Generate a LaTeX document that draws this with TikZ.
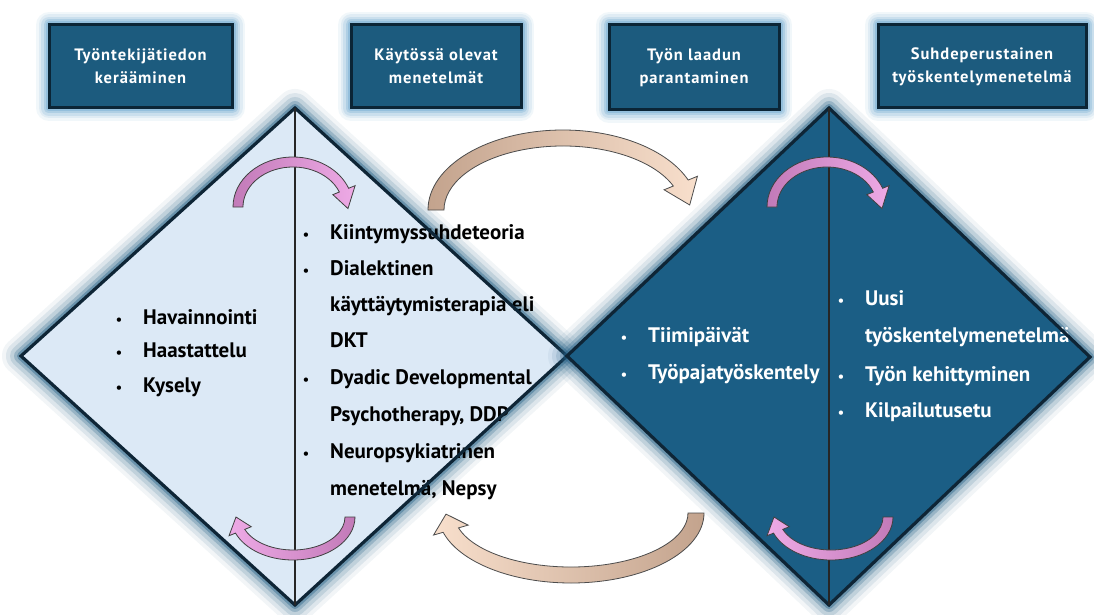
\documentclass[tikz,border=0pt]{standalone}
\usepackage{fontspec}
\setmainfont{PT Sans}
\newfontfamily\headfont[LetterSpace=6]{PT Sans}
\usepackage{tikz}
\tikzset{>=latex}
\definecolor{boxblue}{HTML}{1C5B7E}
\definecolor{boxedge}{HTML}{0B2536}
\definecolor{boxglow}{HTML}{7FB2D6}
\definecolor{paleblue}{HTML}{DCE9F6}
\definecolor{deepblue}{HTML}{1B5E85}
\definecolor{navy}{HTML}{0E2536}
\definecolor{glowblue}{HTML}{245F86}
\definecolor{pinkdark}{HTML}{C27AB8}
\definecolor{pinklight}{HTML}{EEAAE6}
\definecolor{tan}{HTML}{C3A38D}
\definecolor{peach}{HTML}{F8DFCC}
\tikzset{
    hbox/.style={draw=boxedge, fill=boxblue, line width=3pt, text=white, align=center,
        font=\headfont\bfseries\fontsize{16.5}{23}\selectfont,
        preaction={draw=boxglow, line width=26pt, opacity=.1, line join=round},
        preaction={draw=boxglow, line width=21pt, opacity=.15, line join=round},
        preaction={draw=boxglow, line width=16pt, opacity=.22, line join=round},
        preaction={draw=boxglow, line width=11pt, opacity=.35, line join=round},
        preaction={draw=boxglow, line width=7pt, opacity=.55, line join=round}},
    dglow/.style={
        preaction={draw=glowblue, line width=38pt, opacity=.06, line join=round},
        preaction={draw=glowblue, line width=30pt, opacity=.1, line join=round},
        preaction={draw=glowblue, line width=22pt, opacity=.15, line join=round},
        preaction={draw=glowblue, line width=14pt, opacity=.25, line join=round},
        preaction={draw=glowblue, line width=8pt, opacity=.4, line join=round}},
    edge/.style={draw=navy, line width=3.2pt, line join=miter},
    midline/.style={draw=black!85, line width=1.2pt},
    dark/.style={inner sep=0pt, text=black, font=\bfseries\fontsize{21}{24}\selectfont},
    light/.style={inner sep=0pt, text=white, font=\bfseries\fontsize{21}{24}\selectfont},
    pinkarrow/.style={draw=black!75, line width=.8pt},
    bigarrow/.style={draw=black!70, line width=.8pt}
}
\newcommand{\corner}[3]{
    \coordinate (#1) at (#2,#3);
}
\newcommand{\dotitem}[5][]{
    \node[#1, anchor=mid] (#2-dot) at (#3-24,#4) {\fontsize{14}{14}\selectfont\textbullet};
    \node[#1, anchor=mid west] (#2) at (#3,#4) {#5};
}
\newcommand{\lineitem}[5][]{
    \node[#1, anchor=mid west] (#2) at (#3,#4) {#5};
}
\newcommand{\blockarc}[9]{
    \pgfmathsetmacro\bax{#2+#7}\pgfmathsetmacro\bay{#3+#7}
    \pgfmathsetmacro\bix{#2-#7}\pgfmathsetmacro\biy{#3-#7}
    \pgfmathsetmacro\hax{#2+#8}\pgfmathsetmacro\hay{#3+#8}
    \pgfmathsetmacro\hix{#2-#8}\pgfmathsetmacro\hiy{#3-#8}
    \begin{scope}[shift={(#1)}]
        \path[#9] (#4:{\bax} and {\bay}) arc[start angle=#4, end angle=#5, x radius=\bax, y radius=\bay]
            -- (#5:{\hax} and {\hay}) -- (#6:{#2} and {#3}) -- (#5:{\hix} and {\hiy})
            -- (#5:{\bix} and {\biy}) arc[start angle=#5, end angle=#4, x radius=\bix, y radius=\biy] -- cycle;
    \end{scope}
}

\begin{document}
\begin{tikzpicture}[x=1pt, y=1pt]
            \fill[white] (0,0) rectangle (1094,-615);
            \useasboundingbox (0,0) rectangle (1094,-615);

            \node[hbox, minimum width=183pt, minimum height=83pt] (kerays) at (140.5,-66.5) {Työntekijätiedon\\kerääminen};
            \node[hbox, minimum width=170pt, minimum height=83pt] (menetelmat) at (436,-66.5) {Käytössä olevat\\menetelmät};
            \node[hbox, minimum width=170pt, minimum height=85pt] (laatu) at (694,-67.5) {Työn laadun\\parantaminen};
            \node[hbox, minimum width=208pt, minimum height=83pt] (suhde) at (982,-66.5) {Suhdeperustainen\\työskentelymenetelmä};

            \corner {lt} {295} {-108}
            \corner {lr} {567} {-356}
            \corner {lb} {295} {-605}
            \corner {ll} {21} {-356}
            \corner {rt} {829} {-108}
            \corner {rr} {1090} {-357}
            \corner {rb} {829} {-605}
            \corner {rl} {567} {-356}

            \path[dglow, fill=paleblue] (lt) -- (lr) -- (lb) -- (ll) -- cycle;
            \dotitem[dark] {havainnointi} {143} {-322} {Havainnointi}
            \dotitem[dark] {haastattelu} {143} {-355} {Haastattelu}
            \dotitem[dark] {kysely} {143} {-390} {Kysely}
            \dotitem[dark] {kiintymys} {330} {-237} {Kiintymyssuhdeteoria}
            \dotitem[dark] {dkt1} {330} {-273} {Dialektinen}
            \lineitem[dark] {dkt2} {330} {-309} {käyttäytymisterapia eli}
            \lineitem[dark] {dkt3} {330} {-345} {DKT}
            \dotitem[dark] {ddp1} {330} {-382} {Dyadic Developmental}
            \lineitem[dark] {ddp2} {330} {-419} {Psychotherapy, DDP}
            \dotitem[dark] {nepsy1} {330} {-456} {Neuropsykiatrinen}
            \lineitem[dark] {nepsy2} {330} {-493} {menetelmä, Nepsy}
            \draw[edge] (lt) -- (lr) -- (lb) -- (ll) -- cycle;
            \draw[midline] (lt) -- (lb);

            \path[dglow, fill=deepblue] (rt) -- (rr) -- (rb) -- (rl) -- cycle;
            \dotitem[light] {tiimi} {648} {-340} {Tiimipäivät}
            \dotitem[light] {tyopaja} {648} {-377} {Työpajatyöskentely}
            \dotitem[light] {uusi1} {865} {-303} {Uusi}
            \lineitem[light] {uusi2} {865} {-340} {työskentelymenetelmä}
            \dotitem[light] {kehitys} {865} {-379} {Työn kehittyminen}
            \dotitem[light] {kilpailu} {865} {-415} {Kilpailutusetu}
            \draw[edge] (rt) -- (rr) -- (rb) -- (rl) -- cycle;
            \draw[midline] (rt) -- (rb);

            \blockarc{293,-207}{55}{45}{180}{22}{-2}{5}{12}{pinkarrow, left color=pinkdark, right color=pinklight}
            \blockarc{293,-517}{57}{38}{0}{-158}{-180}{5}{12}{pinkarrow, left color=pinklight, right color=pinkdark}
            \blockarc{827,-207}{55}{45}{180}{22}{-2}{5}{12}{pinkarrow, left color=pinkdark, right color=pinklight}
            \blockarc{831,-517}{57}{38}{0}{-158}{-180}{5}{12}{pinkarrow, left color=pinklight, right color=pinkdark}

            \blockarc{563,-210}{127}{72}{180}{22}{4}{8}{18}{bigarrow, left color=tan, right color=peach}
            \blockarc{571,-513}{125}{62}{0}{-164}{-179}{8}{18}{bigarrow, left color=peach, right color=tan}
        \end{tikzpicture}
\end{document}
